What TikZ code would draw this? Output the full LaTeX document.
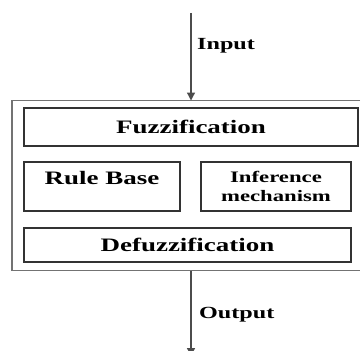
\documentclass[tikz,border=0pt]{standalone}
\usepackage{fontspec}
\setmainfont[FakeStretch=1.42]{Liberation Serif}
\usetikzlibrary{arrows.meta}
\tikzset{
  blk/.style={draw=black!80, line width=1.3pt, inner sep=0pt, font=\bfseries\fontsize{19}{20}\selectfont},
  outerbox/.style={draw=black!55, line width=1.2pt},
  conn/.style={draw=black!70, line width=1.3pt, -{Triangle[length=8pt,width=8pt]}},
  lbl/.style={font=\bfseries\fontsize{17}{18}\selectfont, anchor=west, inner sep=0pt}
}
\begin{document}
\begin{tikzpicture}[x=1pt,y=-1pt]
\useasboundingbox (0,0) rectangle (363,350);
\coordinate (oTL) at (12,100.5);
\coordinate (oBL) at (12,270.5);
\coordinate (oTR) at (360,100.5);
\coordinate (oBR) at (360,270.5);
\draw[outerbox] (oTR) -- (oTL) -- (oBL) -- (oBR);
\node[blk, minimum width=334pt, minimum height=38pt] (fuzz) at (191,127) {Fuzzification};
\node[blk, minimum width=156pt, minimum height=49pt, text depth=17pt] (rule) at (102,186.5) {Rule Base};
\node[blk, minimum width=150pt, minimum height=49pt, align=center, font=\bfseries\fontsize{16}{19}\selectfont] (inf) at (276,186.5) {Inference\\mechanism};
\node[blk, minimum width=327pt, minimum height=34pt] (defuzz) at (187.5,245) {Defuzzification};
\coordinate (inStart) at (191,13);
\coordinate (outEnd) at (191,356);
\draw[conn] (inStart) -- (inStart |- oTL);
\draw[conn] (outEnd |- oBL) -- (outEnd);
\node[lbl] (inlbl) at (197,46) {Input};
\node[lbl] (outlbl) at (199,315) {Output};
\end{tikzpicture}
\end{document}
